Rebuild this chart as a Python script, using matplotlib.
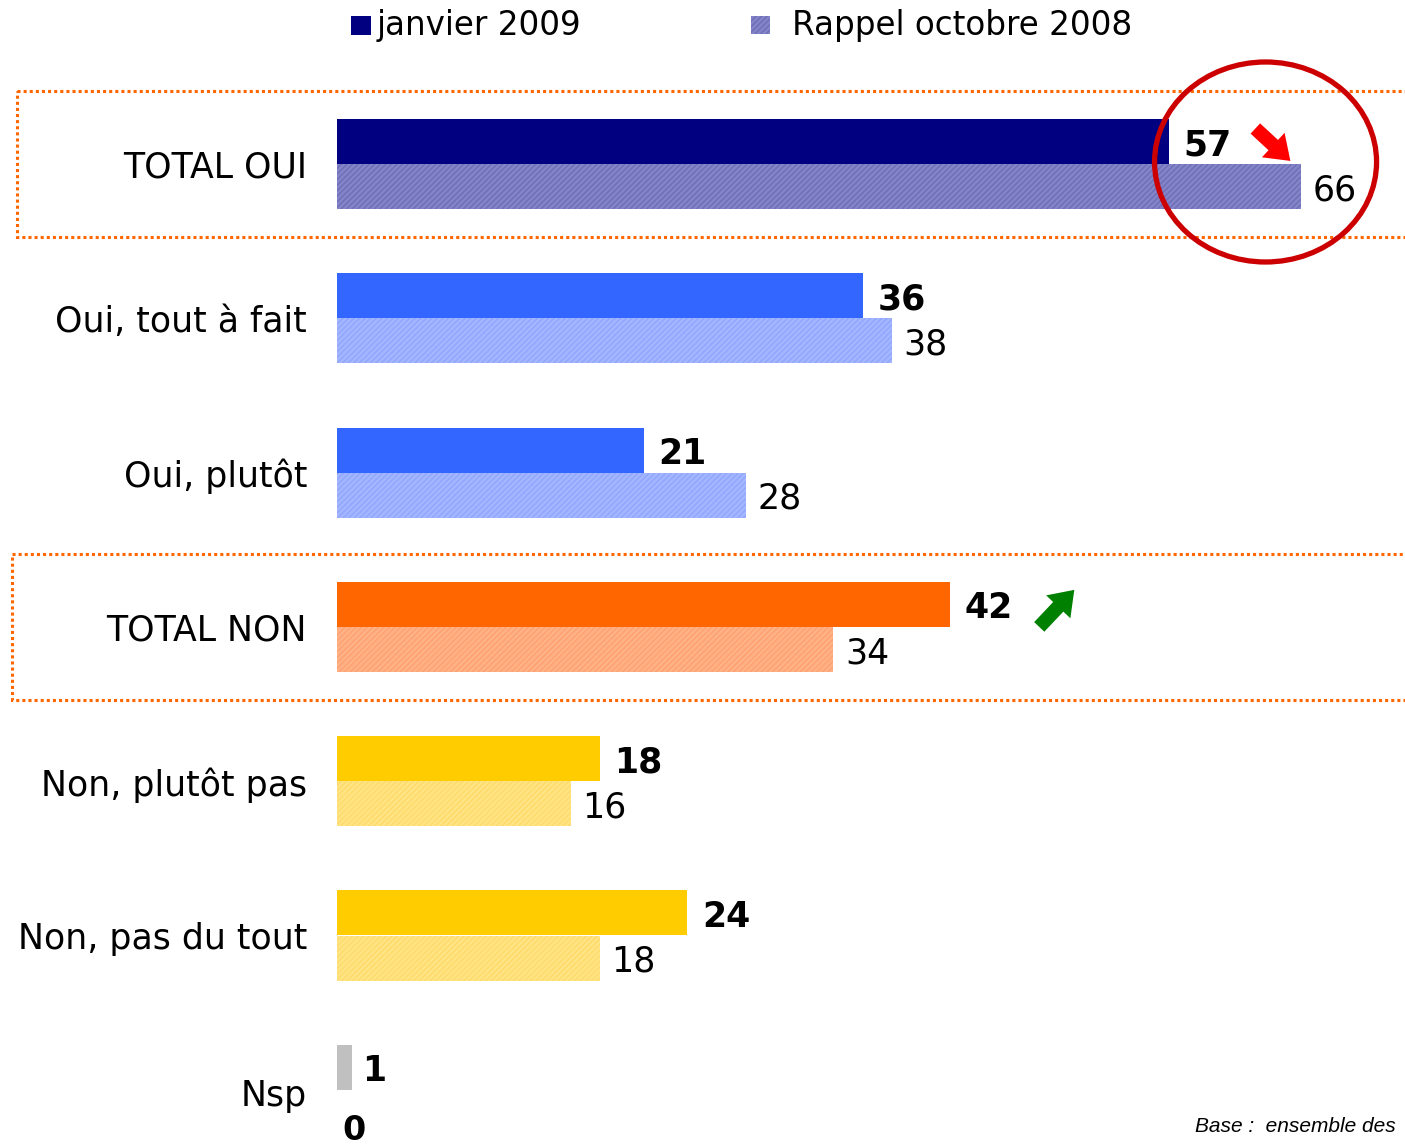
import matplotlib
matplotlib.use("Agg")
import matplotlib.pyplot as plt
from matplotlib.patches import Rectangle, Ellipse

plt.rcParams.update({
    "font.family": "DejaVu Sans",
    "hatch.linewidth": 1.0,
})

W, H = 1405, 1146

categories = ["TOTAL OUI", "Oui, tout à fait", "Oui, plutôt", "TOTAL NON",
              "Non, plutôt pas", "Non, pas du tout", "Nsp"]
jan_2009 = [57, 36, 21, 42, 18, 24, 1]
oct_2008 = [66, 38, 28, 34, 16, 18, 0]
series_names = ["janvier 2009", "Rappel octobre 2008"]

dark_colors = ["#000080", "#3366FF", "#3366FF", "#FF6600", "#FFCC00", "#FFCC00", "#C0C0C0"]
light_colors = ["#8484C8", "#A3B6FF", "#A3B6FF", "#FFB287", "#FFE484", "#FFE484", "#E0E0E0"]
hatch_colors = ["#6E6EB8", "#8FA6FF", "#8FA6FF", "#FFA070", "#FFDA6A", "#FFDA6A", "#D0D0D0"]

PX_PER_UNIT = 14.6
X0 = 337
GROUP = 154.3
Y0 = 164
BAR_H = 45 / GROUP
ORANGE = "#FF6600"
ARROW = "simple,head_length=0.7,head_width=1.0,tail_width=0.42"


def main():
    fig = plt.figure(figsize=(W / 100, H / 100), dpi=100)
    ax = fig.add_axes([X0 / W, 0, 1 - X0 / W, 1])
    ax.set_xlim(0, (W - X0) / PX_PER_UNIT)
    ax.set_ylim((H - Y0) / GROUP, -Y0 / GROUP)
    ax.axis("off")

    for i, (a, b) in enumerate(zip(jan_2009, oct_2008)):
        ax.barh(i - BAR_H / 2, a, BAR_H, color=dark_colors[i], linewidth=0)
        ax.barh(i + BAR_H / 2, b, BAR_H, facecolor=light_colors[i],
                edgecolor=hatch_colors[i], hatch="//////", linewidth=0)
        off = 1.0 if a > 1 else 0.7
        ax.text(a + off, i - BAR_H / 2 + 0.025, f"{a}", ha="left", va="center",
                fontsize=25, fontweight="bold", color="black")
        if b > 0:
            ax.text(b + 0.8, i + BAR_H / 2 + 0.025, f"{b}", ha="left", va="center",
                    fontsize=25, color="black")
        else:
            ax.text(b + 0.4, i + BAR_H / 2 + 0.115, f"{b}", ha="left", va="center",
                    fontsize=24, fontweight="bold", color="black")
        ly = i + (0.04 if i == len(categories) - 1 else 0.025)
        ax.text(-30 / PX_PER_UNIT, ly, categories[i], ha="right", va="center",
                fontsize=25, color="black")

    # dotted boxes around the totals
    for i, x_left in ((0, -21.9), (3, -22.26)):
        ax.add_patch(Rectangle((x_left, i - 0.47), 120, 0.945, fill=False,
                               edgecolor=ORANGE, linewidth=2.2,
                               linestyle=(0, (1, 1)), clip_on=False))

    # red circle around TOTAL OUI
    ax.add_patch(Ellipse((63.6, -0.013), 222 / PX_PER_UNIT, 200 / GROUP,
                         fill=False, edgecolor="#CC0000", linewidth=3.8))

    # trend arrows
    ax.annotate("", xy=(jan_2009[0] + 8.3, -0.02), xytext=(jan_2009[0] + 5.9, -0.23),
                arrowprops=dict(arrowstyle=ARROW, color="#FF0000", lw=0,
                                mutation_scale=24, shrinkA=0, shrinkB=0))
    ax.annotate("", xy=(jan_2009[3] + 8.5, 2.76), xytext=(jan_2009[3] + 6.1, 3.0),
                arrowprops=dict(arrowstyle=ARROW, color="#008000", lw=0,
                                mutation_scale=24, shrinkA=0, shrinkB=0))

    # legend
    fig.patches.append(Rectangle((351 / W, 1 - 35 / H), 20 / W, 19 / H,
                                 transform=fig.transFigure, facecolor=dark_colors[0],
                                 linewidth=0))
    fig.text(377 / W, 1 - 26 / H, series_names[0], ha="left", va="center", fontsize=23.5)
    fig.patches.append(Rectangle((751 / W, 1 - 34 / H), 19 / W, 18 / H,
                                 transform=fig.transFigure, facecolor=light_colors[0],
                                 edgecolor=hatch_colors[0], hatch="//////", linewidth=0))
    fig.text(792 / W, 1 - 26 / H, series_names[1], ha="left", va="center", fontsize=23.5)

    fig.text(1195 / W, 1 - 1127 / H, "Base :  ensemble des", ha="left", va="center",
             fontsize=15, style="italic", family="Liberation Sans")

    fig.savefig("out.png", dpi=100)
    plt.close(fig)


if __name__ == "__main__":
    main()
